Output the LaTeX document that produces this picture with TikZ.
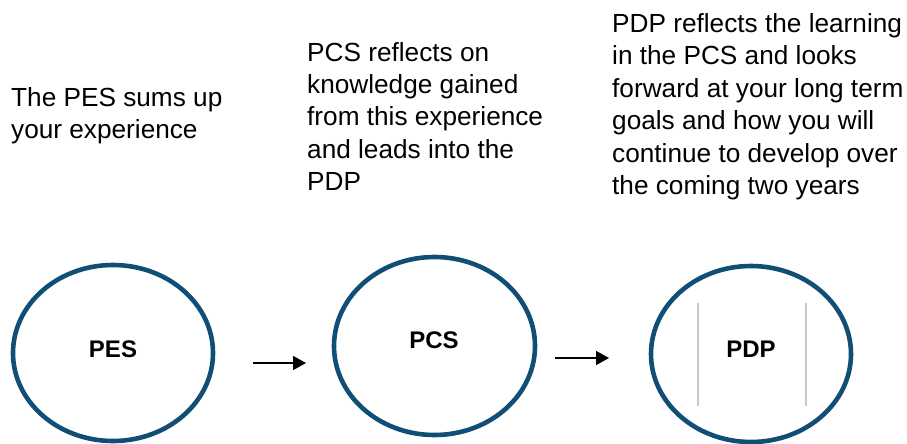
\documentclass[tikz,border=0pt]{standalone}
\usepackage{fontspec}
\setmainfont{Liberation Sans}
\usetikzlibrary{shapes.geometric,arrows.meta}
\definecolor{ringblue}{RGB}{16,78,118}
\definecolor{rulegrey}{RGB}{200,200,200}
\tikzset{
  desc/.style={anchor=base west, inner sep=0pt, align=left, font=\fontsize{26.2}{32.4}\selectfont},
  ring/.style={draw=ringblue, line width=4.6pt, ellipse, inner sep=0pt},
  ringlabel/.style={font=\fontsize{24}{28}\selectfont\bfseries, inner sep=0pt},
  flow/.style={line width=1.5pt, -{Triangle[length=13pt,width=14pt]}},
  divider/.style={draw=rulegrey, line width=1.5pt}
}
\begin{document}
\begin{tikzpicture}[x=1pt,y=-1pt]
\useasboundingbox (0,0) rectangle (907,444);
% anchor base west = baseline of the last line
\node[desc] (t1) at (11,138.4) {The PES sums up\\your experience};
\node[desc] (t2) at (307,190.6) {PCS reflects on\\knowledge gained\\from this experience\\and leads into the\\PDP};
\node[desc] (t3) at (612,194.5) {PDP reflects the learning\\in the PCS and looks\\forward at your long term\\goals and how you will\\continue to develop over\\the coming two years};

\node[ring, minimum width=200pt, minimum height=176pt] (pes) at (113,353) {};
\node[ring, minimum width=201pt, minimum height=178pt] (pcs) at (434.5,346) {};
\node[ring, minimum width=200pt, minimum height=176pt] (pdp) at (751,354) {};

\node[ringlabel] (lpes) at (113,349.5) {PES};
\node[ringlabel] (lpcs) at (434,340.5) {PCS};
\node[ringlabel] (lpdp) at (751,349) {PDP};

\coordinate (d1a) at (698,303);
\coordinate (d1b) at (698,406);
\coordinate (d2a) at (806,303);
\coordinate (d2b) at (806,406);
\draw[divider] (d1a) -- (d1b);
\draw[divider] (d2a) -- (d2b);

\coordinate (a1s) at (253,363);
\coordinate (a1e) at (306,363);
\coordinate (a2s) at (555,358);
\coordinate (a2e) at (609,358);
\draw[flow] (a1s) -- (a1e);
\draw[flow] (a2s) -- (a2e);
\end{tikzpicture}
\end{document}
